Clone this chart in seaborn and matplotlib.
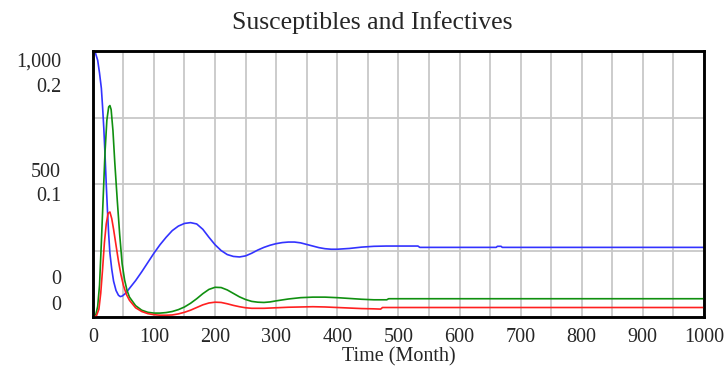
import pandas as pd
import matplotlib
matplotlib.use("Agg")
import matplotlib.pyplot as plt
import seaborn as sns

# susceptibles (left scale 0 - 1,000)
s_time = [0, 4, 8, 11, 14, 16, 18, 20, 22, 24, 26, 28, 31, 34, 38, 42, 45, 48, 52, 56, 60,
          70, 80, 90, 100, 110, 120, 130, 140, 150, 160, 170, 180, 190, 200, 210, 220, 230,
          240, 250, 260, 270, 280, 290, 300, 310, 320, 330, 340, 350, 360, 370, 380, 390,
          400, 420, 440, 460, 480, 500, 532, 535, 660, 662, 668, 670, 1000]
s_vals = [1000, 995, 965, 917, 860, 790, 710, 610, 500, 400, 310, 240, 180, 135, 100, 82, 77,
          79, 86, 96, 108, 137, 170, 205, 240, 272, 300, 325, 342, 352, 355, 350, 330, 300,
          272, 250, 235, 228, 226, 230, 240, 252, 262, 270, 276, 280, 282, 282, 279, 273,
          267, 261, 257, 255, 255, 258, 263, 266, 267, 267, 267, 262, 262, 266, 266, 262, 262]

# infectives (right scale 0 - 0.2)
g_time = [0, 5, 8, 11, 14, 17, 20, 23, 26, 28, 30, 33, 36, 40, 44, 48, 52, 56, 60, 70, 80,
          90, 100, 110, 120, 130, 140, 150, 160, 170, 180, 190, 200, 210, 220, 230, 240,
          250, 260, 270, 280, 290, 300, 320, 340, 360, 380, 400, 420, 440, 460, 481, 484, 1000]
g_vals = [0.0, 0.002, 0.008, 0.024, 0.056, 0.090, 0.124, 0.148, 0.158, 0.159, 0.156, 0.140,
          0.116, 0.088, 0.062, 0.040, 0.028, 0.020, 0.015, 0.0086, 0.0052, 0.0036, 0.0030,
          0.0030, 0.0034, 0.0042, 0.0056, 0.0076, 0.0104, 0.0138, 0.0176, 0.0208, 0.0224,
          0.0222, 0.0204, 0.0178, 0.0152, 0.0132, 0.0118, 0.0112, 0.0110, 0.0114, 0.0122,
          0.0136, 0.0146, 0.0150, 0.0150, 0.0146, 0.0140, 0.0134, 0.0130, 0.0130, 0.0138, 0.0138]

r_time = [0, 6, 10, 13, 16, 19, 22, 25, 28, 31, 34, 38, 42, 46, 50, 55, 60, 70, 80, 90, 100,
          110, 120, 130, 140, 150, 160, 170, 180, 190, 200, 210, 220, 230, 240, 250, 260,
          280, 300, 320, 340, 360, 380, 400, 420, 440, 460, 471, 474, 1000]
r_vals = [0.0, 0.001, 0.006, 0.018, 0.036, 0.056, 0.070, 0.078, 0.079, 0.074, 0.066, 0.054,
          0.042, 0.032, 0.024, 0.017, 0.0126, 0.0070, 0.0042, 0.0026, 0.0018, 0.0014,
          0.0014, 0.0016, 0.0024, 0.0036, 0.0052, 0.0072, 0.0092, 0.0106, 0.0112, 0.0110,
          0.0100, 0.0088, 0.0078, 0.0070, 0.0066, 0.0066, 0.0070, 0.0074, 0.0076, 0.0078,
          0.0076, 0.0072, 0.0068, 0.0064, 0.0062, 0.0060, 0.0072, 0.0072]

x_ticks = [0, 100, 200, 300, 400, 500, 600, 700, 800, 900, 1000]
left_labels = ["1,000", "500", "0"]
right_labels = ["0.2", "0.1", "0"]

sns.set_style("white")
plt.rcParams['font.family'] = ['Liberation Serif', 'DejaVu Serif']

fig = plt.figure(figsize=(7.25, 3.67), dpi=100)
ax = fig.add_axes([0.128, 0.136, 0.843, 0.725])
ax2 = ax.twinx()

s_df = pd.DataFrame({'t': s_time, 'v': s_vals})
g_df = pd.DataFrame({'t': g_time, 'v': g_vals})
r_df = pd.DataFrame({'t': r_time, 'v': r_vals})

sns.lineplot(data=s_df, x='t', y='v', ax=ax, color='#3333ff', linewidth=1.2)
sns.lineplot(data=g_df, x='t', y='v', ax=ax2, color='#109010', linewidth=1.2)
sns.lineplot(data=r_df, x='t', y='v', ax=ax2, color='#ff2020', linewidth=1.2)

ax.set_xlim(0, 1000)
ax.set_ylim(0, 1000)
ax2.set_ylim(0, 0.2)

ax.set_xticks(range(0, 1001, 50))
ax.set_xticklabels([str(v) if v in x_ticks else '' for v in range(0, 1001, 50)], fontsize=14.5)
ax.set_yticks([0, 250, 500, 750, 1000])
ax.set_yticklabels([])
ax2.set_yticks([])
ax.tick_params(length=0, pad=8)
ax.grid(True, color='#c8c8c8', linewidth=1.3)
ax.set_axisbelow(True)

for a in (ax, ax2):
    for sp in a.spines.values():
        sp.set_color('black')
        sp.set_linewidth(1.8)

# stacked value labels on the left, Vensim style
left_pos = [959, 545, 143]
right_pos = [861, 455, 45]
for lab, y in zip(left_labels, left_pos):
    ax.text(-0.052, y, lab, transform=ax.get_yaxis_transform(), ha='right', va='center', fontsize=14.5)
for lab, y in zip(right_labels, right_pos):
    ax.text(-0.052, y, lab, transform=ax.get_yaxis_transform(), ha='right', va='center', fontsize=14.5)

ax.set_xlabel('Time (Month)', fontsize=14.5, labelpad=0)
ax.set_ylabel('')
ax2.set_ylabel('')
fig.suptitle('Susceptibles and Infectives', fontsize=18.5, x=0.513, y=0.94, va='center')

fig.savefig('out.png', dpi=100)
